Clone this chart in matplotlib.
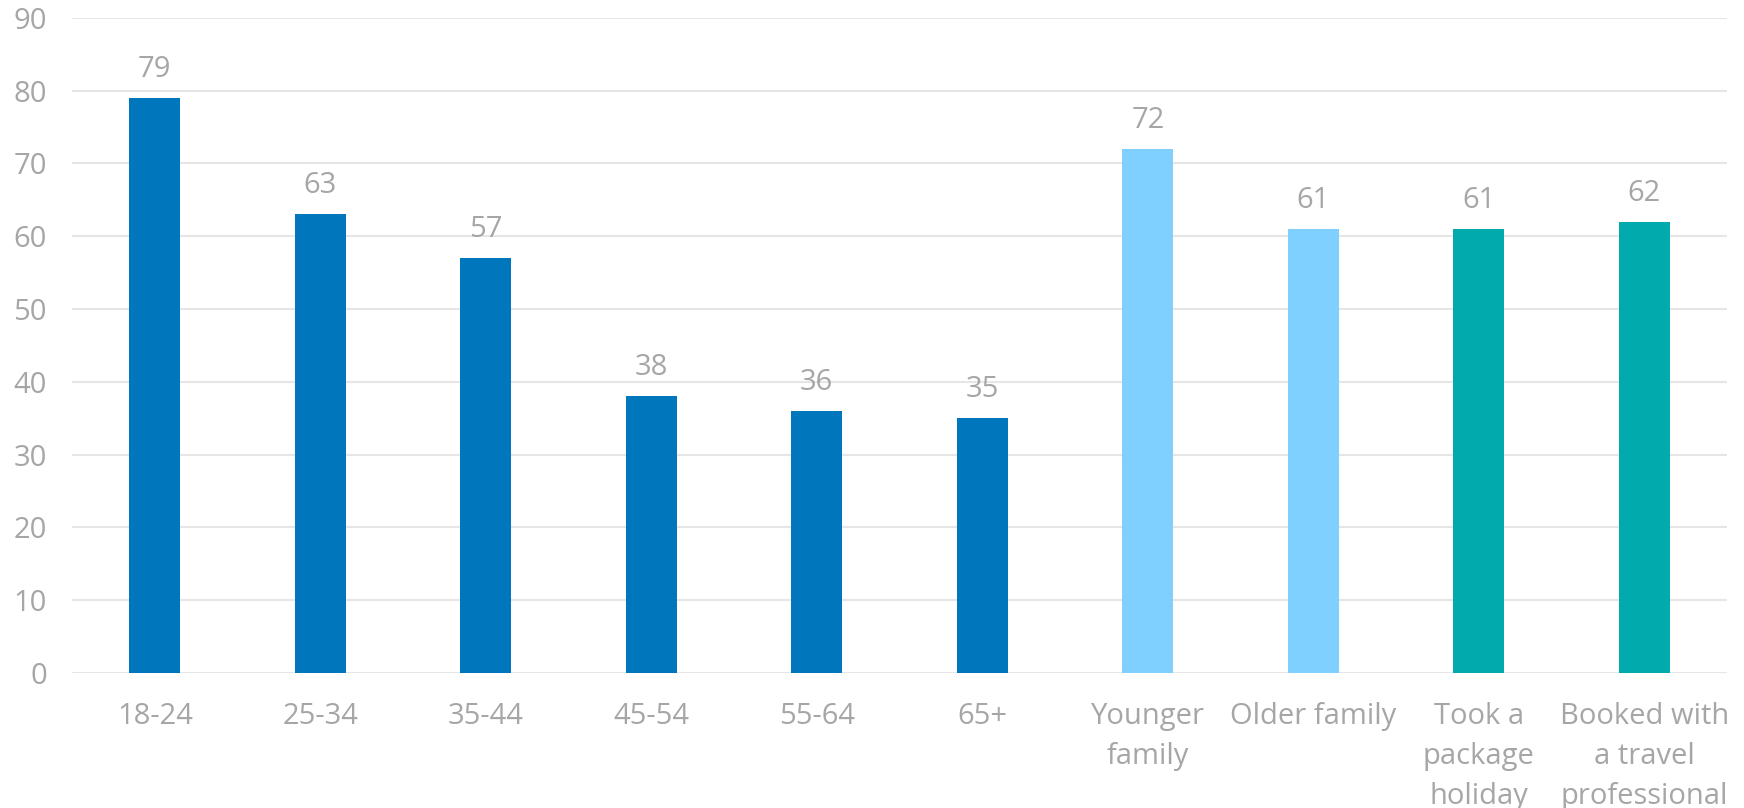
import matplotlib.pyplot as plt

categories = ['18-24', '25-34', '35-44', '45-54', '55-64', '65+',
              'Younger\nfamily', 'Older family', 'Took a\npackage\nholiday',
              'Booked with\na travel\nprofessional']
values = [79, 63, 57, 38, 36, 35, 72, 61, 61, 62]
colors = ['#0077BD'] * 6 + ['#7FD0FF'] * 2 + ['#00AAAD'] * 2

plt.rcParams['font.family'] = ['Open Sans', 'DejaVu Sans']
grey = '#A6A6A6'
fs = 21

fig = plt.figure(figsize=(17.44, 8.08), dpi=100)
ax = fig.add_axes([0.0413, 0.167, 0.949, 0.811])

x = range(len(categories))
bars = ax.bar(x, values, width=0.31, color=colors, zorder=3)

for b, v in zip(bars, values):
    ax.annotate(str(v), (b.get_x() + b.get_width() / 2, v),
                xytext=(0, 10), textcoords='offset points',
                ha='center', va='bottom', fontsize=fs, color=grey)

ax.set_xlim(-0.5, len(categories) - 0.5)
ax.set_ylim(0, 90)
ax.set_yticks(range(0, 91, 10))
ax.set_xticks(list(x))
ax.set_xticklabels(categories, linespacing=1.49)
ax.grid(axis='y', color='#E6E6E6', linewidth=1.5, zorder=0)
for s in ax.spines.values():
    s.set_visible(False)
ax.tick_params(axis='both', length=0, labelsize=fs, labelcolor=grey)
ax.tick_params(axis='x', pad=21)
ax.tick_params(axis='y', pad=18)

fig.savefig('out.png', dpi=100)
